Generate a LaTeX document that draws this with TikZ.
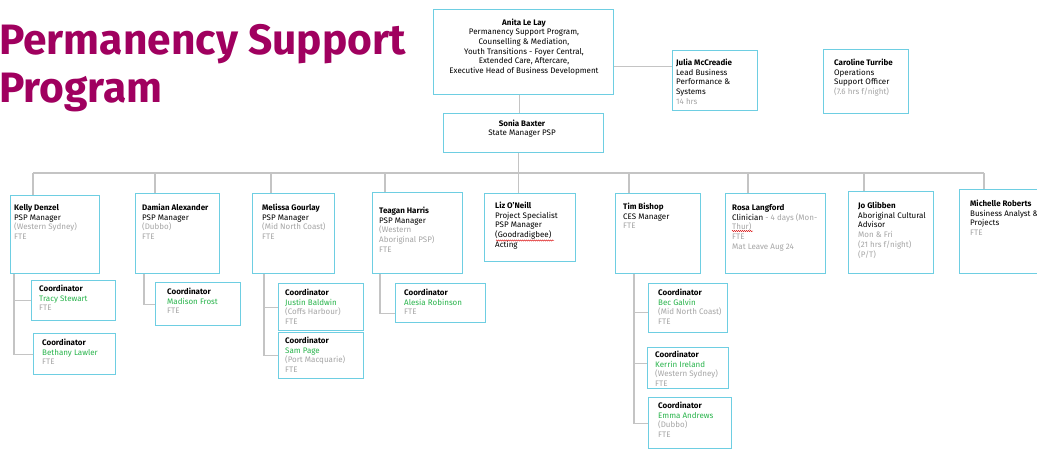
\documentclass[tikz,border=0pt]{standalone}
\usepackage{fontspec}
\setmainfont{Fira Sans}
\usetikzlibrary{calc,shadows,decorations.pathmorphing}
\definecolor{boxc}{RGB}{110,206,226}
\definecolor{linec}{RGB}{196,196,196}
\definecolor{grayt}{RGB}{165,165,165}
\definecolor{greent}{RGB}{40,180,75}
\definecolor{titlec}{RGB}{160,0,95}
\newcommand\Lt[1]{\vtop{\baselineskip=9.7pt\lineskiplimit=-20pt\halign{##\hfil\cr#1\crcr}}}
\newcommand\Ct[1]{\vtop{\baselineskip=9.7pt\lineskiplimit=-20pt\halign{\hfil##\hfil\cr#1\crcr}}}
\newcommand\G[1]{\textcolor{grayt}{#1}}
\newcommand\Gr[1]{\textcolor{greent}{#1}}
\newcommand\obox[5]{\pgfmathsetmacro\bw{#4-#2}\pgfmathsetmacro\bh{#5-#3}%
 \node[box,minimum width=\bw pt,minimum height=\bh pt,anchor=north west] (#1) at (#2,#3) {};}
\tikzset{
 box/.style={draw=boxc,line width=1.3pt,fill=white,inner sep=0pt,
   drop shadow={shadow xshift=0.8pt,shadow yshift=-0.8pt,fill=boxc!45,opacity=0.9}},
 txt/.style={inner sep=0pt,anchor=base west,font=\fontsize{8pt}{9.7pt}\selectfont},
 ctxt/.style={inner sep=0pt,anchor=base,font=\fontsize{8pt}{9.7pt}\selectfont},
 conn/.style={draw=linec,line width=1.2pt},
 squig/.style={draw=red!85!black,line width=0.4pt,decorate,decoration={snake,amplitude=0.6pt,segment length=2pt}},
 ttl/.style={inner sep=0pt,anchor=base west,text=titlec,font=\fontsize{42.5pt}{49pt}\selectfont\bfseries}
}
\begin{document}
\begin{tikzpicture}[x=1pt,y=-1pt]
\useasboundingbox[fill=white] (0,0) rectangle (1037,450);
% title
\node[ttl] (title1) at (-1,54) {Permanency Support};
\node[ttl] (title2) at (-1,102) {Program};
% boxes
\obox{anita}{433}{9}{613}{94}
\obox{julia}{672}{50}{757}{110}
\obox{caroline}{823}{49}{908}{113}
\obox{sonia}{443}{113}{603}{152}
\obox{kelly}{10}{195}{99}{273}
\obox{damian}{135}{193}{219}{273}
\obox{melissa}{252}{193}{334}{273}
\obox{teagan}{372}{192}{462}{273}
\obox{liz}{484}{193}{575}{261}
\obox{tim}{615}{193}{700}{273}
\obox{rosa}{725}{193}{825}{273}
\obox{jo}{848}{191}{933}{273}
\obox{michelle}{959}{189}{1045}{273}
\obox{tracy}{31}{280}{115}{320}
\obox{bethany}{33}{333}{115}{374}
\obox{madison}{155}{282}{240}{325}
\obox{justin}{278}{283}{363}{330}
\obox{sam}{278}{332}{363}{378}
\obox{alesia}{395}{283}{485}{322}
\obox{bec}{648}{283}{727}{332}
\obox{kerrin}{647}{347}{728}{388}
\obox{emma}{648}{397}{731}{448}
% connectors
\coordinate (bus) at (520,173);
\coordinate (alesiab) at ([yshift=-10.5pt]alesia.west);
\coordinate (becb) at ([yshift=-4.5pt]bec.west);
\coordinate (kerrinb) at ([yshift=4.5pt]kerrin.west);
\coordinate (juliab) at ([yshift=14pt]julia.west);
\draw[conn] ([xshift=-4pt]anita.south) -- ([xshift=-4pt]sonia.north);
\draw[conn] (juliab) -- (juliab -| anita.east);
\draw[conn] ([xshift=-5pt]sonia.south) -- ([xshift=-5pt]sonia.south |- liz.north);
\foreach \n/\dx in {kelly/23,damian/20,melissa/19,teagan/13,tim/14,rosa/23,jo/16,michelle/25}
  \draw[conn] ([xshift=\dx pt]\n.north west) -- ([xshift=\dx pt]\n.north west |- bus);
\draw[conn] ([xshift=23pt]kelly.north west |- bus) -- ([xshift=25pt]michelle.north west |- bus);
\draw[conn] ([xshift=4pt]kelly.south west) |- (bethany.west);
\draw[conn] ([xshift=4pt]kelly.south west |- tracy.west) -- (tracy.west);
\draw[conn] ([xshift=9pt]damian.south west) |- (madison.west);
\draw[conn] ([xshift=12pt]melissa.south west) |- (sam.west);
\draw[conn] ([xshift=12pt]melissa.south west |- justin.west) -- (justin.west);
\draw[conn] ([xshift=8pt]teagan.south west) |- (alesiab);
\draw[conn] ([xshift=19pt]tim.south west) |- (emma.west);
\draw[conn] ([xshift=19pt]tim.south west |- becb) -- (becb);
\draw[conn] ([xshift=19pt]tim.south west |- kerrinb) -- (kerrinb);
% texts
\node[ctxt] (anitat) at (524,25) {\Ct{\textbf{Anita Le Lay}\cr Permanency Support Program,\cr Counselling \& Mediation,\cr Youth Transitions - Foyer Central,\cr Extended Care, Aftercare,\cr Executive Head of Business Development}};
\node[txt] (juliat) at (676,65.5) {\Lt{\textbf{Julia McCreadie}\cr Lead Business\cr Performance \&\cr Systems\cr \G{14 hrs}}};
\node[txt] (carolinet) at (834,65.5) {\Lt{\textbf{Caroline Turribe}\cr Operations\cr Support Officer\cr \G{(7.6 hrs f/night)}}};
\node[ctxt] (soniat) at (522,126) {\Ct{\textbf{Sonia Baxter}\cr State Manager PSP}};
\node[txt] (kellyt) at (14,210.5) {\Lt{\textbf{Kelly Denzel}\cr PSP Manager\cr \G{(Western Sydney)}\cr \G{FTE}}};
\node[txt] (damiant) at (142,210.5) {\Lt{\textbf{Damian Alexander}\cr PSP Manager\cr \G{(Dubbo)}\cr \G{FTE}}};
\node[txt] (melissat) at (262,210.5) {\Lt{\textbf{Melissa Gourlay}\cr PSP Manager\cr \G{(Mid North Coast)}\cr \G{FTE}}};
\node[txt] (teagant) at (379,213.5) {\Lt{\textbf{Teagan Harris}\cr PSP Manager\cr \G{(Western}\cr \G{Aboriginal PSP)}\cr \G{FTE}}};
\node[txt] (lizt) at (495,208.5) {\Lt{\textbf{Liz O'Neill}\cr Project Specialist\cr PSP Manager\cr (Goodradigbee)\cr Acting}};
\node[txt] (timt) at (623,209.5) {\Lt{\textbf{Tim Bishop}\cr CES Manager\cr \G{FTE}}};
\node[txt] (rosat) at (732,210.5) {\Lt{\textbf{Rosa Langford}\cr Clinician \G{- 4 days (Mon-}\cr \G{Thur)}\cr \G{FTE}\cr \G{Mat Leave Aug 24}}};
\node[txt] (jot) at (858,208.5) {\Lt{\textbf{Jo Glibben}\cr Aboriginal Cultural\cr Advisor\cr \G{Mon \& Fri}\cr \G{(21 hrs f/night)}\cr \G{(P/T)}}};
\node[txt] (michellet) at (970,206.5) {\Lt{\textbf{Michelle Roberts}\cr Business Analyst \&\cr Projects\cr \G{FTE}}};
\node[txt] (tracyt) at (39,291.5) {\Lt{\textbf{Coordinator}\cr \Gr{Tracy Stewart}\cr \G{FTE}}};
\node[txt] (bethanyt) at (42,345.5) {\Lt{\textbf{Coordinator}\cr \Gr{Bethany Lawler}\cr \G{FTE}}};
\node[txt] (madisont) at (167,294.5) {\Lt{\textbf{Coordinator}\cr \Gr{Madison Frost}\cr \G{FTE}}};
\node[txt] (justint) at (285,295.5) {\Lt{\textbf{Coordinator}\cr \Gr{Justin Baldwin}\cr \G{(Coffs Harbour)}\cr \G{FTE}}};
\node[txt] (samt) at (285,343.5) {\Lt{\textbf{Coordinator}\cr \Gr{Sam Page}\cr \G{(Port Macquarie)}\cr \G{FTE}}};
\node[txt] (alesiat) at (404,295.5) {\Lt{\textbf{Coordinator}\cr \Gr{Alesia Robinson}\cr \G{FTE}}};
\node[txt] (bect) at (658,295.5) {\Lt{\textbf{Coordinator}\cr \Gr{Bec Galvin}\cr \G{(Mid North Coast)}\cr \G{FTE}}};
\node[txt] (kerrint) at (655,357.5) {\Lt{\textbf{Coordinator}\cr \Gr{Kerrin Ireland}\cr \G{(Western Sydney)}\cr \G{FTE}}};
\node[txt] (emmat) at (658,408.5) {\Lt{\textbf{Coordinator}\cr \Gr{Emma Andrews}\cr \G{(Dubbo)}\cr \G{FTE}}};
% spell-check squiggles
\draw[squig] (496,240.5) -- (554,240.5);
\draw[squig] (732,231) -- (753,231);
\end{tikzpicture}
\end{document}
